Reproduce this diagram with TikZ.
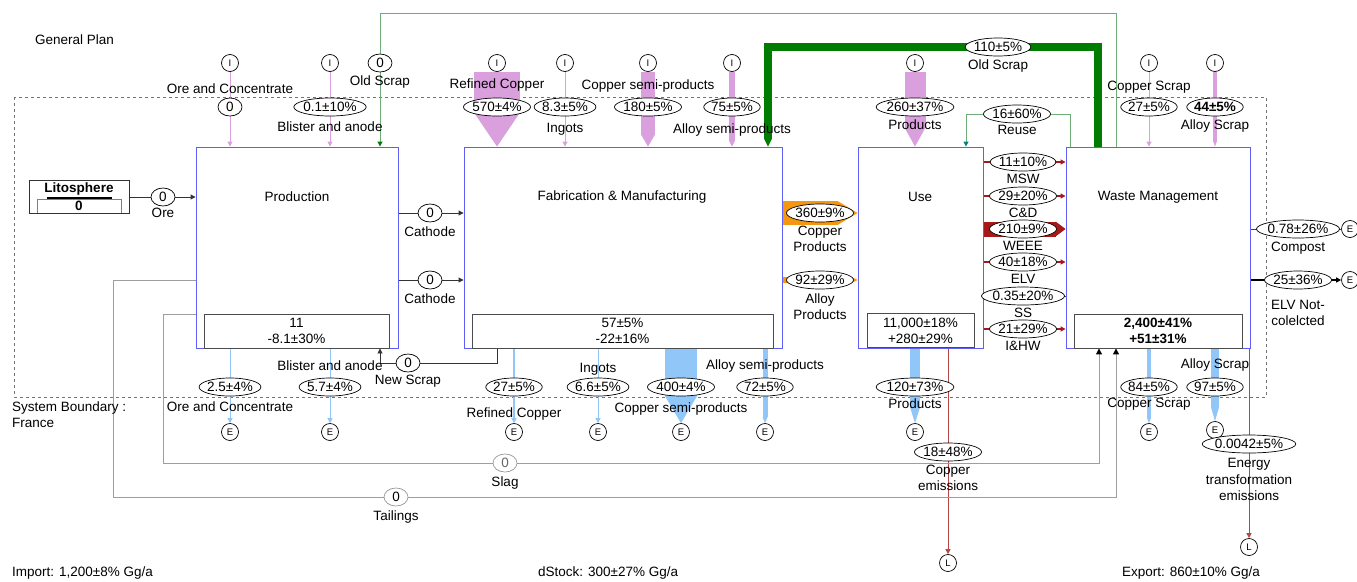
\documentclass[tikz,border=0pt]{standalone}
\usepackage{fontspec}
\setmainfont{Liberation Sans}
\usepackage{tikz}
\usetikzlibrary{shapes.geometric, arrows.meta, positioning, calc}

\definecolor{pinkF}{RGB}{218,160,222}
\definecolor{blueF}{RGB}{145,198,248}
\definecolor{greenF}{RGB}{0,125,0}
\definecolor{greenT}{RGB}{110,172,120}
\definecolor{redF}{RGB}{165,25,25}
\definecolor{orangeF}{RGB}{245,150,15}
\definecolor{boxB}{RGB}{95,95,245}

\pgfdeclarelayer{bg}
\pgfsetlayers{bg,main}

\begin{document}
\begin{tikzpicture}[x=1pt, y=-1pt, >=Stealth,
  font=\fontsize{13.5}{16}\selectfont,
  proc/.style={draw=boxB, line width=0.9pt, inner sep=0pt},
  stock/.style={draw=black!70, line width=0.8pt, inner sep=0pt, align=center, minimum height=34pt},
  val/.style={ellipse, draw, line width=0.7pt, fill=white, inner xsep=-1pt, inner ysep=0pt, minimum width=24pt, minimum height=18pt},
  term/.style={circle, draw, line width=0.7pt, fill=white, inner sep=0pt, minimum size=17pt, font=\fontsize{9.5}{10}\selectfont},
  lab/.style={inner sep=0pt, align=center},
  thinflow/.style={line width=#1, -{Triangle[width=5pt,length=5pt]}},
  thinflow/.default=0.9pt,
  band/.style 2 args={line width=#1, -{Triangle[width=#1,length=#2,line width=0pt]}},
  slagline/.style={black!38, line width=1pt, -{Triangle[width=6pt,length=6pt,color=black]}}]
  \useasboundingbox (0,0) rectangle (1357,581);

  % processes
  \node[proc, minimum width=202pt, minimum height=201pt] (prod) at (297,247.5) {};
  \node[proc, minimum width=318pt, minimum height=201pt] (fab) at (623,247.5) {};
  \node[proc, minimum width=125pt, minimum height=201pt] (use) at (920.5,247.5) {};
  \node[proc, minimum width=184pt, minimum height=201pt] (wm) at (1158,247.5) {};
  \node (prodT) at (297,197) {Production};
  \node (fabT) at (622,197) {Fabrication \& Manufacturing};
  \node (useT) at (920,197) {Use};
  \node (wmT) at (1158,197) {Waste Management};
  \node[stock, minimum width=185pt] (prodS) at (296.5,331) {11\\-8.1±30\%};
  \node[stock, minimum width=301pt] (fabS) at (622.5,331) {57±5\%\\-22±16\%};
  \node[stock, minimum width=107pt] (useS) at (920.5,330.5) {11,000±18\%\\+280±29\%};
  \node[stock, minimum width=168pt, font=\fontsize{13.5}{16}\selectfont\bfseries] (wmS) at (1158,331) {2,400±41\%\\+51±31\%};

  % litosphere
  \node[draw=black!80, line width=0.8pt, minimum width=100pt, minimum height=33pt, inner sep=0pt] (lito) at (79,197) {};
  \node[lab, font=\fontsize{13.5}{16}\selectfont\bfseries] (litoT) at (79,189) {Litosphere};
  \node[lab, font=\fontsize{13.5}{16}\selectfont\bfseries] (litoV) at (79,206) {0};
  \draw[line width=1.2pt] (47,198) -- (112,198);
  \draw[black!50, line width=0.8pt] (37,213) |- (121,199) -- (121,213);

  % texts
  \node[lab, anchor=west] (gp) at (35,40) {General Plan};
  \node[lab, anchor=west, align=left] (sb) at (12,415) {System Boundary :\\France};
  \node[lab, anchor=west] (imp) at (12,573) {Import: 1,200±8\% Gg/a};
  \node[lab, anchor=west] (dst) at (538,573) {dStock: 300±27\% Gg/a};
  \node[lab, anchor=west] (exp) at (1122,573) {Export: 860±10\% Gg/a};

  % imports
  \node[term] (iOre) at (230,63) {I};
  \node[val] (vOreI) at (230,107) {0};
  \node[lab, above=4pt of vOreI] (lOreI) {Ore and Concentrate};
  \node[term] (iBl) at (330,63) {I};
  \node[val] (vBlI) at (330,107) {0.1±10\%};
  \node[lab, below=5pt of vBlI] (lBlI) {Blister and anode};
  \node[val] (vOld) at (380,63) {0};
  \node[lab, below=3pt of vOld] (lOld) {Old Scrap};
  \node[term] (iRC) at (497,63) {I};
  \node[val] (vRC) at (497,107) {570±4\%};
  \node[lab, above=6pt of vRC] (lRC) {Refined Copper};
  \node[term] (iIng) at (565,63) {I};
  \node[val] (vIng) at (565,107) {8.3±5\%};
  \node[lab, below=7pt of vIng] (lIng) {Ingots};
  \node[term] (iCS) at (648,63) {I};
  \node[val] (vCS) at (648,107) {180±5\%};
  \node[lab, above=5pt of vCS] (lCS) {Copper semi-products};
  \node[term] (iAS) at (732,63) {I};
  \node[val] (vAS) at (732,107) {75±5\%};
  \node[lab, below=7pt of vAS] (lAS) {Alloy semi-products};
  \node[val] (vOS) at (998,47) {110±5\%};
  \node[lab, below=3pt of vOS] (lOS) {Old Scrap};
  \node[term] (iPr) at (915,63) {I};
  \node[val] (vPr) at (915,107) {260±37\%};
  \node[lab, below=3pt of vPr] (lPr) {Products};
  \node[val] (vReu) at (1017,114) {16±60\%};
  \node[lab, below=2pt of vReu] (lReu) {Reuse};
  \node[term] (iCSc) at (1149,63) {I};
  \node[val] (vCSc) at (1149,107) {27±5\%};
  \node[lab, above=4pt of vCSc] (lCSc) {Copper Scrap};
  \node[term] (iASc) at (1215,63) {I};
  \node[val, font=\fontsize{13.5}{16}\selectfont\bfseries] (vASc) at (1215,107) {44±5\%};
  \node[lab, below=3pt of vASc] (lASc) {Alloy Scrap};

  % inner flows
  \node[val] (vOre) at (163,197) {0};
  \node[lab, below=2pt of vOre] (lOre) {Ore};
  \node[val] (vCa1) at (430,213) {0};
  \node[lab, below=4pt of vCa1] (lCa1) {Cathode};
  \node[val] (vCa2) at (430,280) {0};
  \node[lab, below=4pt of vCa2] (lCa2) {Cathode};
  \node[val] (vCP) at (820,213) {360±9\%};
  \node[lab, below=4pt of vCP] (lCP) {Copper\\Products};
  \node[val] (vAP) at (820,280) {92±29\%};
  \node[lab, below=4pt of vAP] (lAP) {Alloy\\Products};
  \node[val] (vMSW) at (1023,162) {11±10\%};
  \node[lab, below=3pt of vMSW] (lMSW) {MSW};
  \node[val] (vCD) at (1023,196) {29±20\%};
  \node[lab, below=3pt of vCD] (lCD) {C\&D};
  \node[val] (vWEEE) at (1023,229) {210±9\%};
  \node[lab, below=3pt of vWEEE] (lWEEE) {WEEE};
  \node[val] (vELVu) at (1023,262) {40±18\%};
  \node[lab, below=3pt of vELVu] (lELVu) {ELV};
  \node[val] (vSS) at (1023,296) {0.35±20\%};
  \node[lab, below=3pt of vSS] (lSS) {SS};
  \node[val] (vIHW) at (1023,329) {21±29\%};
  \node[lab, below=3pt of vIHW] (lIHW) {I\&HW};
  \node[val] (vNS) at (408,363) {0};
  \node[lab, below=3pt of vNS] (lNS) {New Scrap};

  % exports
  \node[val] (vOreE) at (230,387) {2.5±4\%};
  \node[lab, below=5pt of vOreE] (lOreE) {Ore and Concentrate};
  \node[term] (eOre) at (230,432) {E};
  \node[val] (vBlE) at (330,387) {5.7±4\%};
  \node[lab, above=7pt of vBlE] (lBlE) {Blister and anode};
  \node[term] (eBl) at (330,432) {E};
  \node[val] (vRCe) at (514,387) {27±5\%};
  \node[lab, below=11pt of vRCe] (lRCe) {Refined Copper};
  \node[term] (eRC) at (514,432) {E};
  \node[val] (vInge) at (598,387) {6.6±5\%};
  \node[lab, above=2pt of vInge] (lInge) {Ingots};
  \node[term] (eIng) at (598,432) {E};
  \node[val] (vCSe) at (681,387) {400±4\%};
  \node[lab, below=6pt of vCSe] (lCSe) {Copper semi-products};
  \node[term] (eCS) at (681,432) {E};
  \node[val] (vASe) at (765,387) {72±5\%};
  \node[lab, above=5pt of vASe] (lASe) {Alloy semi-products};
  \node[term] (eAS) at (765,432) {E};
  \node[val] (vPre) at (915,387) {120±73\%};
  \node[lab, below=2pt of vPre] (lPre) {Products};
  \node[term] (ePr) at (915,432) {E};
  \node[val] (vCue) at (948,452) {18±48\%};
  \node[lab, below=4pt of vCue] (lCue) {Copper\\emissions};
  \node[term] (lCu) at (948,563) {L};
  \node[val] (vCSce) at (1149,387) {84±5\%};
  \node[lab, below=2pt of vCSce] (lCSce) {Copper Scrap};
  \node[term] (eCSc) at (1149,432) {E};
  \node[val] (vASce) at (1215,387) {97±5\%};
  \node[lab, above=6pt of vASce] (lASce) {Alloy Scrap};
  \node[term] (eASc) at (1215,430) {E};
  \node[val] (vEn) at (1249,444) {0.0042±5\%};
  \node[lab, below=5pt of vEn, font=\fontsize{13.5}{16.5}\selectfont] (lEn) {Energy\\transformation\\emissions};
  \node[term] (lEnL) at (1249,547) {L};
  \node[val] (vCo) at (1298,229) {0.78±26\%};
  \node[lab, below=4pt of vCo] (lCo) {Compost};
  \node[term] (eCo) at (1350,229) {E};
  \node[val] (vELV) at (1298,280) {25±36\%};
  \node[lab, below=11pt of vELV] (lELV) {ELV Not-\\colelcted};
  \node[term] (eELV) at (1350,280) {E};
  \node[val, draw=black!40, text=black!60] (vSlag) at (505,463) {0};
  \node[lab, below=4pt of vSlag] (lSlag) {Slag};
  \node[val, draw=black!40] (vTail) at (396,497) {0};
  \node[lab, below=4pt of vTail] (lTail) {Tailings};

  % corners of the long connectors
  \coordinate (gT) at (1116,13);
  \coordinate (gR) at (1098,47);
  \coordinate (gL) at (768,47);
  \coordinate (rR) at (1070,114);
  \coordinate (rL) at (966,114);
  \coordinate (nsR) at (497,363);
  \coordinate (nsL) at (380,363);
  \coordinate (sL) at (163,314);
  \coordinate (sR) at (1099,463);
  \coordinate (tL) at (113,280);
  \coordinate (tR) at (1116,497);

  \begin{pgfonlayer}{bg}
    \draw[black!55, dashed, line width=0.8pt] (14,97) rectangle (1266,397);
    % imports
    \draw[pinkF, thinflow] (iOre) -- (iOre |- prod.north);
    \draw[pinkF, thinflow] (iBl) -- (iBl |- prod.north);
    \draw[pinkF, band={46pt}{34pt}] (iRC.south) -- (iRC |- fab.north);
    \draw[pinkF, thinflow] (iIng) -- (iIng |- fab.north);
    \draw[pinkF, band={14pt}{12pt}] (iCS.south) -- (iCS |- fab.north);
    \draw[pinkF, band={6pt}{6pt}] (iAS.south) -- (iAS |- fab.north);
    \draw[pinkF, band={21pt}{19pt}] (iPr.south) -- (iPr |- use.north);
    \draw[pinkF, thinflow] (iCSc) -- (iCSc |- wm.north);
    \draw[pinkF, band={3.5pt}{5pt}] (iASc.south) -- (iASc |- wm.north);
    % recycling
    \draw[greenT, line width=1pt, -{Triangle[width=5pt,length=5pt,color=greenF]}] (gT |- wm.north) -- (gT) -| (vOld) -- (vOld |- prod.north);
    \draw[greenF, band={8pt}{8pt}] (gR |- wm.north) -- (gR) -- (gL) -- (gL |- fab.north);
    \draw[greenT, line width=1pt, -{Triangle[width=5pt,length=5pt,color=teal]}] (rR |- wm.north) -- (rR) -- (rL) -- (rL |- use.north);
    \draw[black!80, thinflow] (nsR |- fab.south) -- (nsR) -- (nsL) -- (nsL |- prod.south);
    % chain
    \draw[black!80, thinflow] (lito) -- (prod.west |- lito);
    \draw[black!80, thinflow] (prod.east |- vCa1) -- (fab.west |- vCa1);
    \draw[black!80, thinflow] (prod.east |- vCa2) -- (fab.west |- vCa2);
    \draw[orangeF, band={24pt}{20pt}] (fab.east |- vCP) -- (use.west |- vCP);
    \draw[orangeF, band={6pt}{6pt}] (fab.east |- vAP) -- (use.west |- vAP);
    \draw[redF, thinflow=1.2pt] (use.east |- vMSW) -- (wm.west |- vMSW);
    \draw[redF, thinflow=1.2pt] (use.east |- vCD) -- (wm.west |- vCD);
    \draw[redF, band={15pt}{10pt}] (use.east |- vWEEE) -- (wm.west |- vWEEE);
    \draw[redF, thinflow=1.2pt] (use.east |- vELVu) -- (wm.west |- vELVu);
    \draw[redF, line width=1pt] (use.east |- vSS) -- (wm.west |- vSS);
    \draw[redF, thinflow=1.2pt] (use.east |- vIHW) -- (wm.west |- vIHW);
    \draw[redF, line width=0.9pt] (wm.east |- vCo) -- (eCo);
    \draw[thinflow=1.4pt] (wm.east |- vELV) -- (eELV);
    % exports
    \draw[blueF, thinflow] (eOre |- prod.south) -- (eOre);
    \draw[blueF, thinflow] (eBl |- prod.south) -- (eBl);
    \draw[blueF, thinflow=2.5pt] (eRC |- fab.south) -- (eRC);
    \draw[blueF, thinflow] (eIng |- fab.south) -- (eIng);
    \draw[blueF, band={32pt}{27pt}] (eCS |- fab.south) -- (eCS);
    \draw[blueF, band={5pt}{6pt}] (eAS |- fab.south) -- (eAS);
    \draw[blueF, band={10pt}{16pt}] (ePr |- use.south) -- (ePr);
    \draw[blueF, band={4pt}{5pt}] (eCSc |- wm.south) -- (eCSc);
    \draw[blueF, band={8pt}{14pt}] (eASc |- wm.south) -- (eASc);
    \draw[redF!80, thinflow] (lCu |- use.south) -- (lCu);
    \draw[redF!80, thinflow] (lEnL |- wm.south) -- (lEnL);
    % slag and tailings
    \draw[slagline] (prod.west |- sL) -- (sL) |- (sR) -- (sR |- wm.south);
    \draw[slagline] (prod.west |- tL) -- (tL) |- (tR) -- (tR |- wm.south);
  \end{pgfonlayer}
\end{tikzpicture}
\end{document}
